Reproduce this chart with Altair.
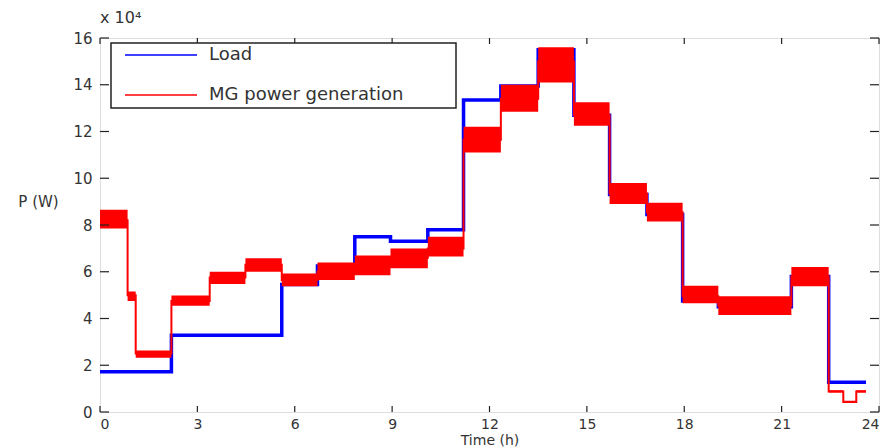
import altair as alt
import pandas as pd

# ---------------- data (power in W, time in h) ----------------
series_names = ["Load", "MG power generation"]
series_colors = ["#0000ff", "#ff0000"]

# Load demand: step series (segment start times, last entry = end)
load_t = [0, 2.2, 5.6, 6.7, 7.85, 8.95, 10.1, 11.2, 12.35, 13.5, 14.6, 15.7,
          16.85, 17.95, 19.05, 21.3, 22.45, 23.6]
load_p = [17200, 32800, 54500, 62500, 75000, 73000, 78000, 133500, 139500,
          155000, 127000, 93000, 84500, 47500, 45000, 58000, 12700, 12700]

# MG power generation: step series with noise band (low / high) per segment
gen_t = [0, 0.85, 1.1, 2.2, 3.38, 4.48, 5.6, 6.7, 7.85, 8.95, 10.1, 11.2,
         12.35, 13.5, 14.6, 15.7, 16.85, 17.95, 19.05, 21.3, 22.45, 22.9,
         23.3, 23.6]
gen_mean = [82000, 50000, 25000, 47500, 57500, 63000, 56500, 60000, 62500,
            66000, 70000, 116500, 134000, 150000, 127000, 93500, 85500,
            49500, 45500, 58000, 8800, 4300, 8800, 8800]
gen_low = [78500, 47500, 23200, 45500, 54800, 60000, 53800, 56500, 58500,
           61500, 66500, 111000, 128500, 141000, 122500, 89000, 81500,
           46500, 41500, 53800, 8300, 3800, 8300, 8300]
gen_high = [86500, 51500, 26300, 49800, 60000, 65800, 59200, 64000, 67000,
            70000, 75000, 122000, 140000, 156000, 132500, 98000, 89500,
            54000, 49500, 62000, 9300, 4800, 9300, 9300]

x_ticks = [0, 3, 6, 9, 12, 15, 18, 21, 24]
y_ticks = [0, 20000, 40000, 60000, 80000, 100000, 120000, 140000, 160000]

# ---------------- tables ----------------
load_df = pd.DataFrame({"t": load_t, "p": load_p, "series": series_names[0]})
gen_df = pd.DataFrame({"t": gen_t, "p": gen_mean, "low": gen_low,
                       "high": gen_high, "series": series_names[1]})
xt_df = pd.DataFrame({"v": x_ticks})
yt_df = pd.DataFrame({"v": y_ticks})

W, H = 779, 374
FONT = "DejaVu Sans"
TXT = "#333333"
EDGE = "#222222"

x_scale = alt.Scale(domain=[0, 24], nice=False, zero=False)
y_scale = alt.Scale(domain=[0, 160000], nice=False)

x_enc = alt.X("t:Q", scale=x_scale, axis=alt.Axis(
    values=x_ticks, title="Time (h)", ticks=False, domain=False, grid=False,
    labelFontSize=14, labelPadding=5, labelColor=TXT, labelFont=FONT,
    titleFontSize=14, titleFontWeight="normal", titleColor=TXT, titleFont=FONT,
    titleY=35, titleBaseline="bottom"))
y_axis = alt.Axis(
    values=y_ticks, labelExpr="datum.value / 10000", title="P (W)",
    ticks=False, domain=False, grid=False, labelFontSize=15, labelPadding=8,
    labelColor=TXT, labelFont=FONT, titleFontSize=15, titleFontWeight="normal",
    titleColor=TXT, titleFont=FONT, titleAngle=0, titleX=-62, titleY=163,
    titleAlign="center", titleBaseline="middle")

load_line = alt.Chart(load_df).mark_line(
    interpolate="step-after", strokeWidth=3.5, color=series_colors[0]).encode(
    x=x_enc, y=alt.Y("p:Q", scale=y_scale, axis=y_axis))

gen_band = alt.Chart(gen_df).mark_area(
    interpolate="step-after", color=series_colors[1], opacity=1).encode(
    x="t:Q", y="low:Q", y2="high:Q")

gen_line = alt.Chart(gen_df).mark_line(
    interpolate="step-after", strokeWidth=2, color=series_colors[1]).encode(
    x="t:Q", y="p:Q")

bottom_ticks = alt.Chart(xt_df).mark_rule(color=EDGE, strokeWidth=1.2).encode(
    x="v:Q", y=alt.value(H), y2=alt.value(H - 6))
top_ticks = alt.Chart(xt_df).mark_rule(color=EDGE, strokeWidth=1.2).encode(
    x="v:Q", y=alt.value(0), y2=alt.value(6))
left_ticks = alt.Chart(yt_df).mark_rule(color=EDGE, strokeWidth=1.2).encode(
    y="v:Q", x=alt.value(0), x2=alt.value(9))
right_ticks = alt.Chart(yt_df).mark_rule(color=EDGE, strokeWidth=1.2).encode(
    y="v:Q", x=alt.value(W), x2=alt.value(W - 9))

# ---------------- legend (box + entries) ----------------
box_df = pd.DataFrame({"k": [0]})
legend_box = alt.Chart(box_df).mark_rect(
    fill="white", stroke=EDGE, strokeWidth=1.5).encode(
    x=alt.value(11), x2=alt.value(356), y=alt.value(5), y2=alt.value(70))

legend_layers = [legend_box]
row_y = [17, 57]
for name, col, yy in zip(series_names, series_colors, row_y):
    entry_df = pd.DataFrame({"series": [name]})
    legend_layers.append(
        alt.Chart(entry_df).mark_rule(color=col, strokeWidth=1.3).encode(
            x=alt.value(25), x2=alt.value(97), y=alt.value(yy)))
    legend_layers.append(
        alt.Chart(entry_df).mark_text(
            align="left", baseline="middle", font=FONT, fontSize=18,
            color=TXT).encode(
            text="series:N", x=alt.value(109), y=alt.value(yy)))

chart = alt.layer(
    load_line, gen_band, gen_line,
    bottom_ticks, top_ticks, left_ticks, right_ticks,
    *legend_layers
).properties(
    width=W, height=H,
    title=alt.TitleParams(text="x 10⁴", anchor="start", frame="group",
                          fontSize=16, fontWeight="normal", font=FONT,
                          color=TXT, offset=5),
    autosize=alt.AutoSizeParams(type="none"),
    padding={"left": 100, "top": 38, "right": 6, "bottom": 36},
).configure_view(
    stroke=EDGE, strokeWidth=1.8
).configure(background="white")

chart.save("out.html", embed_options={"renderer": "svg", "actions": False})
